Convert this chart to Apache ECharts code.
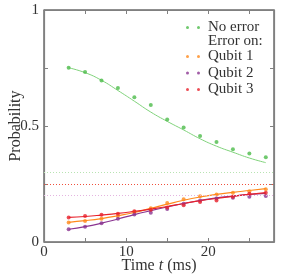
<!DOCTYPE html>
<html><head><meta charset="utf-8">
<script src="https://cdn.jsdelivr.net/npm/echarts@6/dist/echarts.min.js"></script>
<style>html,body{margin:0;padding:0;background:#fff}#c{width:292px;height:277px}</style>
</head><body><div id="c"></div>
<script>
// ---- data ----
const times = [3,5,7,9,11,13,15,17,19,21,23,25,27];
const noErrorDots = [0.751,0.733,0.696,0.664,0.624,0.590,0.528,0.493,0.457,0.431,0.400,0.382,0.365];
const noErrorFit  = [0.751,0.730,0.697,0.653,0.607,0.560,0.520,0.483,0.445,0.413,0.387,0.362,0.342];
const qubit1Dots = [0.084,0.090,0.100,0.112,0.129,0.146,0.168,0.184,0.197,0.205,0.212,0.219,0.227];
const qubit1Fit  = [0.085,0.092,0.101,0.113,0.127,0.145,0.163,0.180,0.194,0.205,0.214,0.222,0.230];
const qubit2Dots = [0.055,0.066,0.081,0.100,0.118,0.126,0.142,0.165,0.179,0.187,0.191,0.195,0.198];
const qubit2Fit  = [0.055,0.066,0.081,0.099,0.118,0.135,0.151,0.166,0.179,0.190,0.198,0.205,0.210];
const qubit3Dots = [0.106,0.112,0.117,0.122,0.133,0.139,0.149,0.158,0.172,0.179,0.195,0.208,0.212];
const qubit3Fit  = [0.106,0.110,0.116,0.123,0.132,0.142,0.153,0.166,0.178,0.188,0.197,0.205,0.213];
const refLevels = {noError:0.30, qubit3:0.25, qubit2:0.20};
const xTickLabels = ['0','10','20'];
const yTickLabels = ['0','0.5','1'];

const X_MIN = 0, X_MAX = 28, Y_MIN = 0, Y_MAX = 1;
const FONT = 'Liberation Serif';
const C = {green:'#4cbb4a', greenLine:'#7fd27a', greenRef:'#b8e4b2',
           orange:'#ff8a1c', purple:'#8b3591', red:'#e8222c',
           redRef:'#f0503c', purpleRef:'#e4b4e0', axis:'#808080'};
const pair = (xs, ys) => xs.map((x,i)=>[x, ys[i]]);
const twoDots = 'path://M0,1.5a1.5,1.5 0 1,0 3,0a1.5,1.5 0 1,0 -3,0zM11,1.5a1.5,1.5 0 1,0 3,0a1.5,1.5 0 1,0 -3,0z';

function fit(name, data, color, w){
  return {name:name, type:'line', data:data, smooth:true, showSymbol:false, symbol:'none',
    lineStyle:{color:color, width:w}, itemStyle:{color:color}, silent:true, z:2};
}
function dots(name, data, color){
  return {name:name, type:'scatter', data:data, symbol:'circle', symbolSize:4,
    itemStyle:{color:color}, z:3};
}
function ref(value, color){
  return {type:'line', data:[], markLine:{silent:true, symbol:'none', label:{show:false},
    lineStyle:{color:color, type:[1,2], width:1}, data:[{yAxis:value}]}};
}
// plot frame traced along the axis extents
const frameSeries = {name:'frame', type:'line', silent:true, z:4, clip:false,
  showSymbol:false, symbol:'none', smooth:false,
  lineStyle:{color:C.axis, width:1.3}, itemStyle:{color:C.axis},
  data:[[X_MIN,Y_MIN],[X_MAX,Y_MIN],[X_MAX,Y_MAX],[X_MIN,Y_MAX],[X_MIN,Y_MIN]]};

const chart = echarts.init(document.getElementById('c'));
function axisCommon(){ return {
  show:true, silent:true,
  axisLine:{show:true, onZero:false, lineStyle:{color:C.axis, width:1.2}},
  axisTick:{show:true, inside:true, length:4, lineStyle:{color:C.axis, width:1}},
  splitLine:{show:false}
};}
chart.setOption({
  animation:false,
  grid:{left:44, right:18, top:10, bottom:35, containLabel:false, outerBoundsMode:'none',
        show:true, borderColor:C.axis, borderWidth:1.2},
  xAxis:[
    Object.assign(axisCommon(), {type:'value', min:X_MIN, max:X_MAX, interval:5, position:'bottom',
      name:'Time {i|t} (ms)', nameLocation:'middle', nameGap:16, nameMoveOverlap:false,
      nameTextStyle:{fontFamily:FONT, fontSize:16, color:'#333',
        rich:{i:{fontFamily:FONT, fontStyle:'italic', fontSize:16, color:'#333'}}},
      axisLabel:{fontFamily:FONT, fontSize:15, color:'#333', margin:3,
        formatter:v=> xTickLabels.includes(String(v)) ? String(v) : ''}}),
    Object.assign(axisCommon(), {type:'value', min:X_MIN, max:X_MAX, interval:5, position:'top',
      axisLabel:{show:false}})
  ],
  yAxis:[
    Object.assign(axisCommon(), {type:'value', min:Y_MIN, max:Y_MAX, interval:0.25, position:'left',
      name:'Probability', nameLocation:'middle', nameGap:20, nameMoveOverlap:false,
      nameTextStyle:{fontFamily:FONT, fontSize:16, color:'#333'},
      axisLabel:{fontFamily:FONT, fontSize:15, color:'#333', margin:5,
        formatter:v=> yTickLabels.includes(String(v)) ? String(v) : ''}}),
    Object.assign(axisCommon(), {type:'value', min:Y_MIN, max:Y_MAX, interval:0.25, position:'right',
      axisLabel:{show:false}})
  ],
  legend:[
    {data:[{name:'No error', icon:twoDots}], orient:'vertical', left:186, top:20, padding:0,
     itemWidth:14, itemHeight:3, itemGap:4,
     textStyle:{fontFamily:FONT, fontSize:15, color:'#333', padding:[0,0,0,3]}},
    {data:[{name:'Qubit 1', icon:twoDots},{name:'Qubit 2', icon:twoDots},{name:'Qubit 3', icon:twoDots}],
     orient:'vertical', left:186, top:49, padding:0, itemWidth:14, itemHeight:3, itemGap:1.5,
     textStyle:{fontFamily:FONT, fontSize:15, color:'#333', padding:[0,0,0,3]}}
  ],
  graphic:[{type:'text', left:208, top:34,
    style:{text:'Error on:', fontFamily:FONT, fontSize:15, fill:'#333'}}],
  series:[
    frameSeries,
    ref(refLevels.noError, C.greenRef),
    ref(refLevels.qubit3, C.redRef),
    ref(refLevels.qubit2, C.purpleRef),
    fit('No error fit', pair(times, noErrorFit), C.greenLine, 1),
    fit('Qubit 1 fit', pair(times, qubit1Fit), C.orange, 1.2),
    fit('Qubit 2 fit', pair(times, qubit2Fit), C.purple, 1.2),
    fit('Qubit 3 fit', pair(times, qubit3Fit), C.red, 1.2),
    dots('No error', pair(times, noErrorDots), C.green),
    dots('Qubit 1', pair(times, qubit1Dots), C.orange),
    dots('Qubit 2', pair(times, qubit2Dots), C.purple),
    dots('Qubit 3', pair(times, qubit3Dots), C.red)
  ]
});
</script></body></html>
